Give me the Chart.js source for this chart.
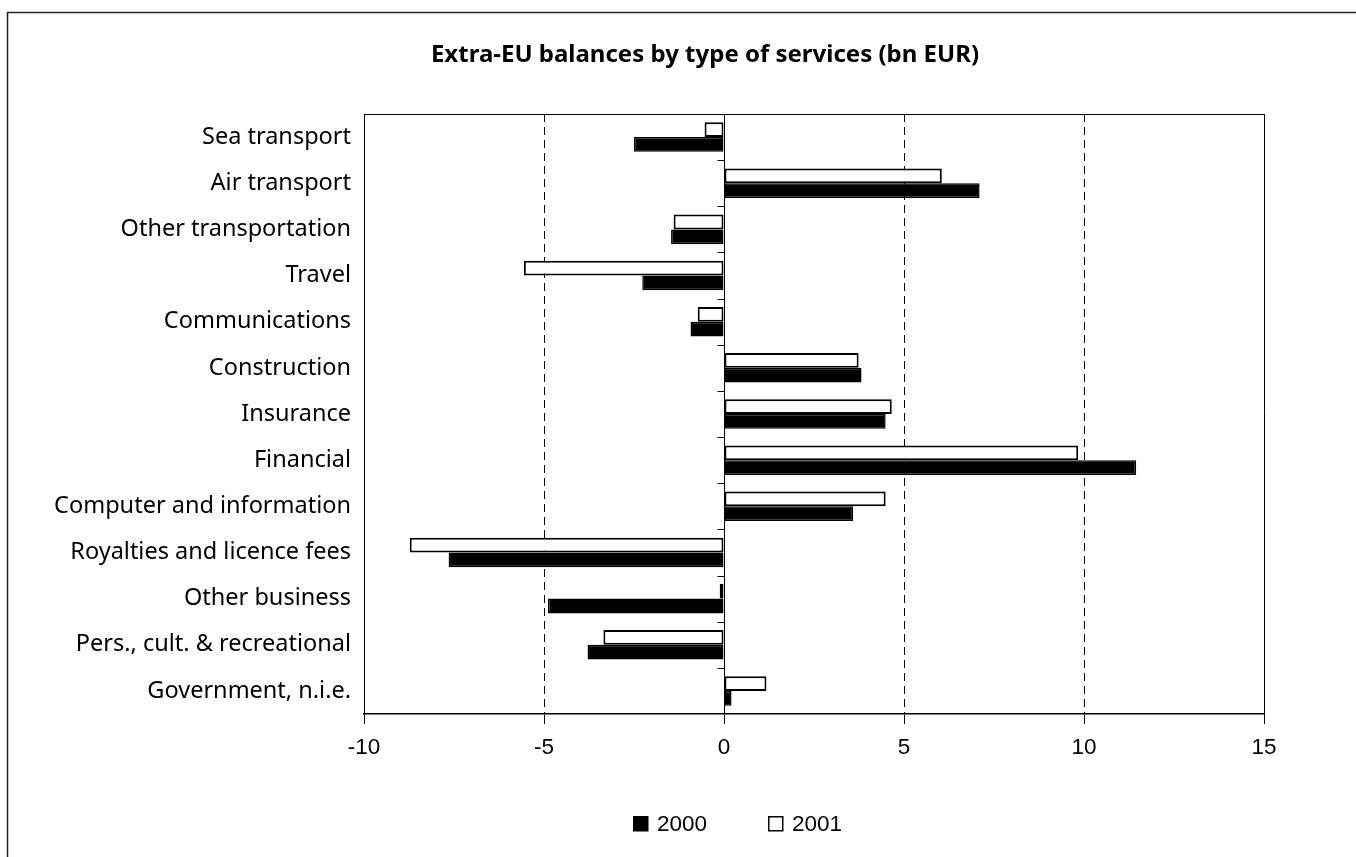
<!DOCTYPE html>
<html>
<head>
<meta charset="utf-8">
<script src="https://cdn.jsdelivr.net/npm/chart.js@4.4.0/dist/chart.umd.min.js"></script>
<style>
    html, body { margin: 0; padding: 0; background: #fff; }
    #wrap { width: 1356px; height: 857px; }
</style>
</head>
<body>
<div id="wrap"><canvas id="chartServices" width="1356" height="857"></canvas></div>
<script>
// 카테고리 / 데이터
const categories = [
    'Sea transport', 'Air transport', 'Other transportation', 'Travel',
    'Communications', 'Construction', 'Insurance', 'Financial',
    'Computer and information', 'Royalties and licence fees', 'Other business',
    'Pers., cult. & recreational', 'Government, n.i.e.'
];
const values2000 = [-2.5, 7.1, -1.47, -2.27, -0.93, 3.82, 4.49, 11.45, 3.59, -7.65, -4.89, -3.79, 0.21];
const values2001 = [-0.54, 6.05, -1.4, -5.56, -0.73, 3.74, 4.66, 9.84, 4.49, -8.73, -0.12, -3.35, 1.18];
const xTicks = [-10, -5, 0, 5, 10, 15];
const chartTitle = 'Extra-EU balances by type of services (bn EUR)';

const numFont = '"Liberation Sans"';

// 제목, 테두리, 범례, 0선 눈금 그리기
const decorPlugin = {
    id: 'decor',
    afterDatasetsDraw(chart) {
        const ctx = chart.ctx;
        const area = chart.chartArea;
        const x = chart.scales.x;
        const y = chart.scales.y;
        ctx.save();
        ctx.strokeStyle = '#000';
        ctx.lineWidth = 1;
        // 위쪽 테두리
        ctx.beginPath();
        ctx.moveTo(area.left, area.top + 0.5);
        ctx.lineTo(area.right, area.top + 0.5);
        ctx.stroke();
        // 0선 위의 카테고리 눈금
        const x0 = Math.round(x.getPixelForValue(0)) + 0.5;
        ctx.beginPath();
        for (let i = 1; i < categories.length; i++) {
            const yy = Math.round((y.getPixelForValue(i - 1) + y.getPixelForValue(i)) / 2) + 0.5;
            ctx.moveTo(x0 - 7, yy);
            ctx.lineTo(x0, yy);
        }
        ctx.stroke();
        ctx.restore();
    },
    afterDraw(chart) {
        const ctx = chart.ctx;
        ctx.save();
        // 바깥 테두리
        ctx.strokeStyle = '#222';
        ctx.lineWidth = 1.5;
        ctx.beginPath();
        ctx.moveTo(7.5, chart.height + 5);
        ctx.lineTo(7.5, 12.5);
        ctx.lineTo(chart.width + 5, 12.5);
        ctx.stroke();
        // 제목
        ctx.fillStyle = '#000';
        ctx.font = 'bold 24px "Noto Sans"';
        ctx.textAlign = 'center';
        ctx.textBaseline = 'middle';
        ctx.fillText(chartTitle, 705, 55);
        // 범례 (2000 먼저)
        ctx.font = '22.5px ' + numFont;
        ctx.textAlign = 'left';
        const items = [chart.data.datasets[1], chart.data.datasets[0]];
        const xs = [633, 768];
        items.forEach((ds, i) => {
            ctx.fillStyle = ds.backgroundColor;
            ctx.fillRect(xs[i], 816, 15, 15);
            ctx.strokeStyle = '#000';
            ctx.lineWidth = 1.5;
            ctx.strokeRect(xs[i] + 0.75, 816.75, 14, 14);
            ctx.fillStyle = '#000';
            ctx.fillText(ds.label, xs[i] + 24, 825);
        });
        ctx.restore();
    }
};

const data = {
    labels: categories,
    datasets: [{
        label: '2001',
        data: values2001,
        backgroundColor: '#ffffff',
        borderColor: '#000000',
        borderWidth: 2,
        borderSkipped: false,
        categoryPercentage: 0.64,
        barPercentage: 1.0
    }, {
        label: '2000',
        data: values2000,
        backgroundColor: '#000000',
        borderColor: '#000000',
        borderWidth: 1.5,
        borderSkipped: false,
        categoryPercentage: 0.64,
        barPercentage: 1.0
    }]
};

const options = {
    indexAxis: 'y',
    responsive: false,
    maintainAspectRatio: false,
    animation: false,
    layout: { padding: { left: 0, right: 92, top: 114, bottom: 100 } },
    plugins: {
        title: { display: false },
        legend: { display: false },
        tooltip: { enabled: false }
    },
    scales: {
        x: {
            min: -10,
            max: 15,
            afterBuildTicks(scale) {
                scale.ticks = xTicks.map(v => ({ value: v }));
            },
            afterFit(scale) { scale.height = 43; },
            grid: {
                color: '#000',
                lineWidth: 1,
                drawTicks: true,
                tickLength: 10,
                tickColor: '#000'
            },
            border: {
                display: true,
                color: '#000',
                width: 1.5,
                dash: (c) => (c.tick && [-5, 5, 10].includes(c.tick.value)) ? [8, 5] : []
            },
            ticks: {
                color: '#000',
                padding: 10,
                font: { family: numFont, size: 22.5 }
            }
        },
        y: {
            afterFit(scale) { scale.width = 364; },
            grid: { display: false, drawTicks: false },
            border: { display: true, color: '#000', width: 1 },
            ticks: {
                color: '#000',
                padding: 13,
                autoSkip: false,
                font: { family: '"Noto Sans"', size: 23.5 }
            }
        }
    }
};

document.addEventListener('DOMContentLoaded', function(){
    const ctx = document.getElementById('chartServices').getContext('2d');
    const chartServices = new Chart(ctx, {
        type: 'bar',
        data: data,
        options: options,
        plugins: [decorPlugin]
    });
});
</script>
</body>
</html>
